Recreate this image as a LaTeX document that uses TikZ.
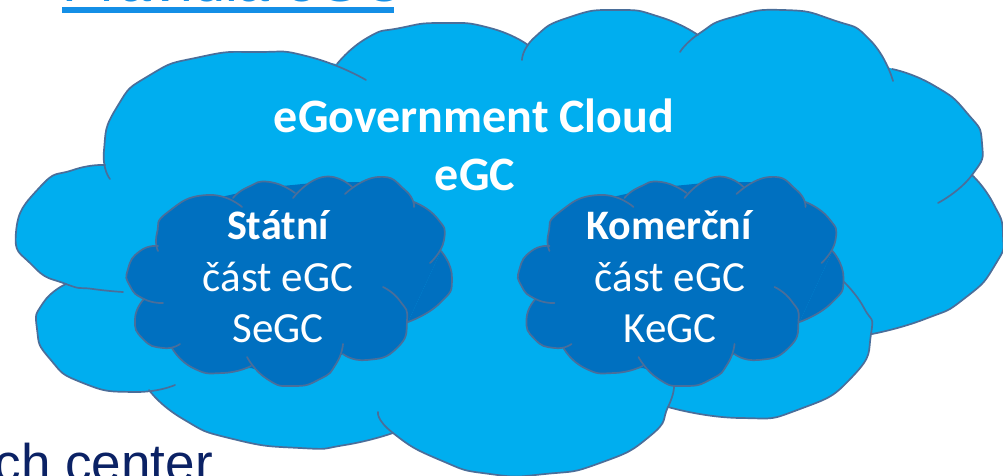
\documentclass[tikz,border=0pt]{standalone}
\usepackage{fontspec}
\setmainfont{Carlito}
\newfontfamily\arialf{Liberation Sans}
\definecolor{cloudA}{HTML}{00AEEF}
\definecolor{cloudB}{HTML}{0070C0}
\definecolor{edgeC}{HTML}{4A6E9A}
\definecolor{linkC}{HTML}{148FE6}
\definecolor{navyC}{HTML}{0B2265}
\tikzset{
 lobe/.style={draw=edgeC,line width=1.7pt,line cap=round,line join=round},
 big/.style={text=white,font=\bfseries\fontsize{48}{48}\selectfont,anchor=base,inner sep=0pt},
 bigs/.style={text=white,font=\bfseries\fontsize{42}{42}\selectfont,anchor=base,inner sep=0pt},
 reg/.style={text=white,font=\fontsize{43}{43}\selectfont,anchor=base,inner sep=0pt}
}
% big cloud lobes
\def\La{plot[smooth,tension=1] coordinates {(110,179)(104,150)(117,107)(150,75)(200,57)(257,52)(310,57)(366,80)}}
\def\Lb{plot[smooth,tension=1] coordinates {(337,64)(367,38)(400,28)(443,23)(490,28)(528,45)}}
\def\Lc{plot[smooth,tension=1] coordinates {(522,60)(535,37)(570,17)(617,10)(660,17)(698,35)}}
\def\Ld{plot[smooth,tension=1] coordinates {(680,52)(700,33)(733,17)(783,10)(833,20)(870,40)(893,81)}}
\def\Le{plot[smooth,tension=1] coordinates {(892,69)(933,85)(967,113)(982,143)(972,175)(938,203)}}
\def\Lf{plot[smooth,tension=1] coordinates {(972,175)(993,203)(1003,235)(995,265)(965,298)(925,319)(872,334)}}
\def\Lg{plot[smooth,tension=1] coordinates {(843,281)(864,308)(871,334)(853,376)(800,409)(740,418)(668,407)}}
\def\Lh{plot[smooth,tension=1] coordinates {(674,386)(668,407)(650,436)(600,463)(545,474)(490,474)(440,460)(393,433)(378,412)}}
\def\Li{plot[smooth,tension=1] coordinates {(393,433)(345,445)(300,448)(233,439)(183,419)(149,390)}}
\def\Lj{plot[smooth,tension=1] coordinates {(175,385)(133,392)(83,383)(50,359)(37,329)(43,303)(66,284)}}
\def\Lk{plot[smooth,tension=1] coordinates {(123,292)(93,289)(66,284)(33,266)(16,232)(40,187)(73,170)(105,165)}}
% small cloud lobes
\def\Sa{plot[smooth,tension=1] coordinates {(158,251)(157,233)(168,212)(207,195)(242,207)}}
\def\Sb{plot[smooth,tension=1] coordinates {(233,198)(248,187)(270,182)(295,193)}}
\def\Sc{plot[smooth,tension=1] coordinates {(293,198)(323,177)(352,187)}}
\def\Sd{plot[smooth,tension=1] coordinates {(345,194)(378,177)(405,190)(414,207)}}
\def\Se{plot[smooth,tension=1] coordinates {(414,202)(437,218)(444,240)(430,263)}}
\def\Sf{plot[smooth,tension=1] coordinates {(441,251)(452,278)(440,303)(408,322)}}
\def\Sg{plot[smooth,tension=1] coordinates {(383,287)(400,301)(407,321)(397,348)(367,360)(343,354)}}
\def\Sh{plot[smooth,tension=1] coordinates {(343,344)(336,364)(320,379)(293,386)(267,379)(247,357)}}
\def\Si{plot[smooth,tension=1] coordinates {(251,366)(223,373)(193,368)(172,348)}}
\def\Sj{plot[smooth,tension=1] coordinates {(180,344)(163,348)(143,339)(135,319)(144,299)}}
\def\Sk{plot[smooth,tension=1] coordinates {(163,303)(144,299)(130,286)(128,269)(140,251)(158,246)}}
\newcommand{\smallcloud}{%
 \foreach \P in {\Sa,\Sb,\Sc,\Sd,\Se,\Sf,\Sg,\Sh,\Si,\Sj,\Sk}{\fill[cloudB] \P -- cycle;}
 \fill[cloudB] (158,246)--(207,200)--(262,188)--(323,182)--(378,182)--(414,204)--(441,251)--(408,322)--(343,354)--(293,380)--(251,368)--(223,370)--(172,348)--(144,299)--(140,251)--cycle;
 \foreach \P in {\Sa,\Sb,\Sc,\Sd,\Se,\Sf,\Sg,\Sh,\Si,\Sj,\Sk}{\draw[lobe] \P;}
}
\begin{document}
\begin{tikzpicture}[x=1pt,y=-1pt]
\useasboundingbox (0,0) rectangle (1003,476);
\clip (0,0) rectangle (1003,476);
\fill[white] (0,0) rectangle (1003,476);
% clipped page text
\node[text=linkC,font=\arialf\fontsize{57.5}{58}\selectfont,anchor=base west,inner sep=0pt] (top) at (62,2) {Pravidla eGC};
\fill[linkC] (62,7) rectangle (394,13);
\node[text=navyC,font=\arialf\fontsize{53}{53}\selectfont,anchor=base east,inner sep=0pt] (bottom) at (213,481) {ch center};
% big cloud
\foreach \P in {\La,\Lb,\Lc,\Ld,\Le,\Lf,\Lg,\Lh,\Li,\Lj,\Lk}{\fill[cloudA] \P -- cycle;}
\fill[cloudA] (105,165)--(125,98)--(257,56)--(337,64)--(443,28)--(528,45)--(617,15)--(698,35)--(783,15)--(892,69)--(972,175)--(985,282)--(872,334)--(800,405)--(668,407)--(590,460)--(393,433)--(300,444)--(149,390)--(66,284)--cycle;
\foreach \P in {\La,\Lb,\Lc,\Ld,\Le,\Lf,\Lg,\Lh,\Li,\Lj,\Lk}{\draw[lobe] \P;}
% small clouds
\smallcloud
\begin{scope}[xshift=391.5pt]\smallcloud\end{scope}
% labels
\node[big] (t1) at (474,132) {eGovernment Cloud};
\node[big] (t2) at (475,190) {eGC};
\node[bigs] (s1) at (278,239) {Státní};
\node[reg] (s2) at (278,291) {část eGC};
\node[reg] (s3) at (278,342) {SeGC};
\node[bigs] (k1) at (669,239) {Komerční};
\node[reg] (k2) at (670,291) {část eGC};
\node[reg] (k3) at (670,342) {KeGC};
\end{tikzpicture}
\end{document}
